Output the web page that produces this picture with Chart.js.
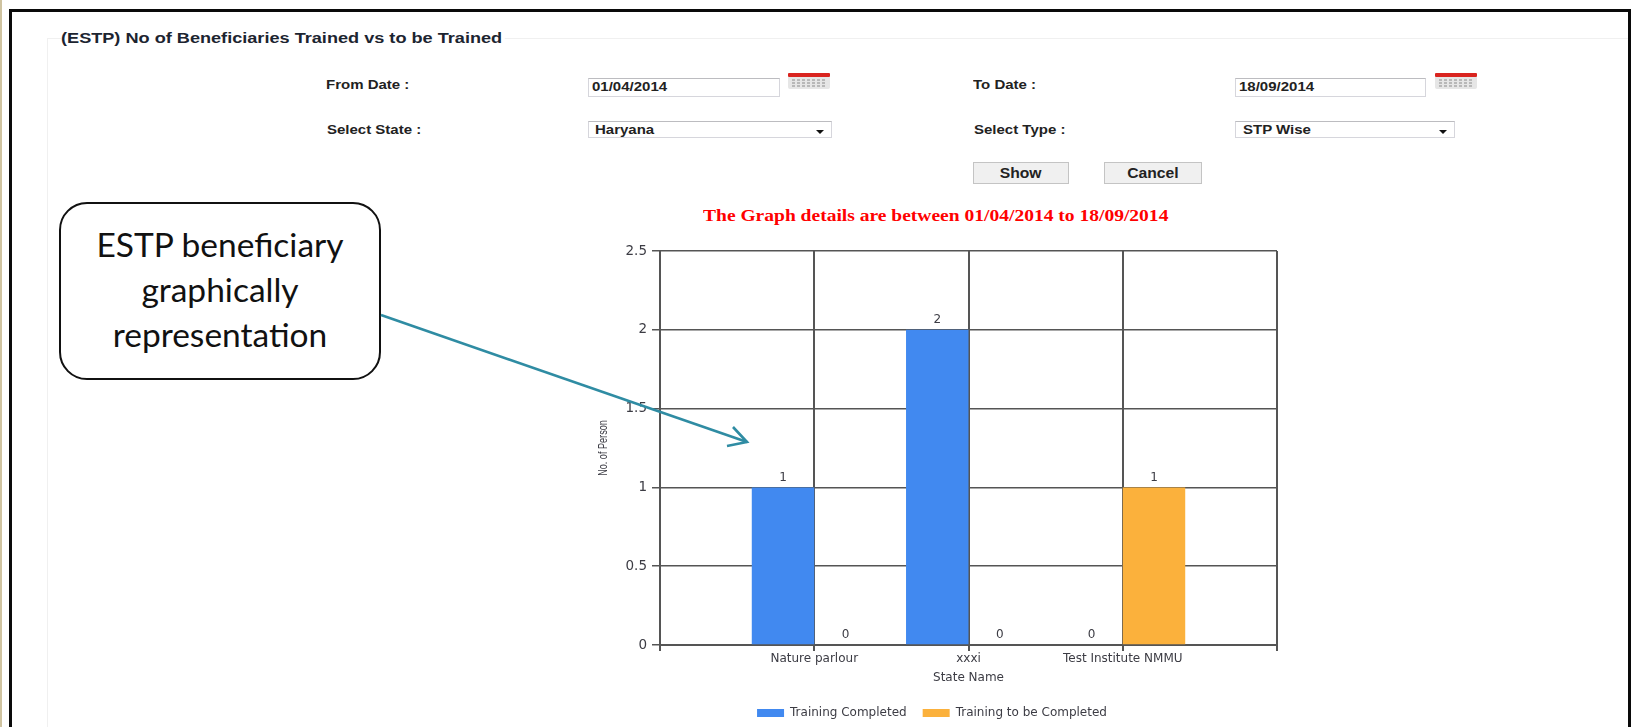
<!DOCTYPE html>
<html>
<head>
<meta charset="utf-8">
<title>(ESTP) No of Beneficiaries Trained vs to be Trained</title>
<script src="https://cdn.jsdelivr.net/npm/chart.js@4"></script>
<style>
    html, body { margin: 0; padding: 0; background: #fff; overflow: hidden; }
    #page { position: relative; width: 1631px; height: 727px; overflow: hidden; font-family: "Liberation Sans", Arial, sans-serif; color: #222; }
    #strip { position: absolute; left: 0; top: 0; width: 2px; height: 727px; background: #cfc3a0; }
    #frame { position: absolute; left: 9px; top: 9px; width: 1622px; height: 730px; border: 3px solid #0a0a0a; box-sizing: border-box; }
    #fieldLeft { position: absolute; left: 47px; top: 38px; width: 1px; height: 700px; background: #f0f0f0; }
    #fieldTop { position: absolute; left: 47px; top: 38px; width: 1581px; height: 1px; background: #f0f0f0; }
    .txt { position: absolute; font-weight: bold; font-size: 12.5px; line-height: 14px; white-space: nowrap; transform: scaleX(1.2); transform-origin: left center; }
    .box { position: absolute; background: #fff; border: 1px solid #d6d6dc; border-top-color: #bcbcc0; box-sizing: border-box; }
    .caret { position: absolute; width: 0; height: 0; border-left: 4.5px solid transparent; border-right: 4.5px solid transparent; border-top: 4.5px solid #111; }
    .btn { position: absolute; top: 162px; height: 22px; background: #f0f0f0; border: 1px solid #c4c4c4; box-sizing: border-box; text-align: center; font-weight: bold; font-size: 14px; line-height: 20px; }
    .btn span { display: inline-block; transform: scaleX(1.12); }
    #graphTitle { position: absolute; left: 703px; top: 207px; font: bold 16px/18px "Liberation Serif", serif; color: #ff0000; white-space: nowrap; transform: scaleX(1.22); transform-origin: left center; }
    #chartBox { position: absolute; left: 582px; top: 200px; width: 700px; height: 535px; }
    #yTitle { position: absolute; left: 603px; top: 448px; font-size: 13px; line-height: 14px; color: #3c3c44; white-space: nowrap; transform: translate(-50%, -50%) rotate(-90deg) scaleX(0.7); }
    #callout { position: absolute; left: 59px; top: 202px; width: 322px; height: 178px; border: 2px solid #111; border-radius: 28px; background: #fff; box-sizing: border-box; text-align: center; font-family: Lato, "Open Sans", sans-serif; font-size: 33.5px; line-height: 45px; padding-top: 18px; color: #111; }
    #arrow { position: absolute; left: 0; top: 0; }
</style>
</head>
<body>
<div id="page">
    <div id="strip"></div>
    <div id="frame"></div>
    <div id="fieldLeft"></div>
    <div id="fieldTop"></div>

    <div class="txt" style="left:61px;top:31px;font-size:14.5px;background:#fff;padding-right:2px;color:#1c2430;transform:scaleX(1.25)">(ESTP) No of Beneficiaries Trained vs to be Trained</div>

    <div class="txt" style="left:326px;top:78px">From Date :</div>
    <div class="box" style="left:588px;top:78px;width:192px;height:19px"></div>
    <div class="txt" style="left:592px;top:80px">01/04/2014</div>
    <svg style="position:absolute;left:788px;top:73px" width="44" height="18"><use href="#cal"/></svg>

    <div class="txt" style="left:973px;top:78px">To Date :</div>
    <div class="box" style="left:1235px;top:78px;width:191px;height:19px"></div>
    <div class="txt" style="left:1239px;top:80px">18/09/2014</div>
    <svg style="position:absolute;left:1435px;top:73px" width="44" height="18"><use href="#cal"/></svg>

    <div class="txt" style="left:327px;top:123px">Select State :</div>
    <div class="box" style="left:588px;top:121px;width:244px;height:17px"></div>
    <div class="txt" style="left:595px;top:123px">Haryana</div>
    <div class="caret" style="left:816px;top:130px"></div>

    <div class="txt" style="left:974px;top:123px">Select Type :</div>
    <div class="box" style="left:1235px;top:121px;width:220px;height:17px"></div>
    <div class="txt" style="left:1243px;top:123px">STP Wise</div>
    <div class="caret" style="left:1439px;top:130px"></div>

    <div class="btn" style="left:973px;width:96px"><span>Show</span></div>
    <div class="btn" style="left:1104px;width:98px"><span>Cancel</span></div>

    <div id="graphTitle">The Graph details are between 01/04/2014 to 18/09/2014</div>

    <div id="chartBox"><canvas id="myChart"></canvas></div>
    <div id="yTitle">No. of Person</div>

    <div id="callout">ESTP beneficiary<br>graphically<br>representation</div>

    <svg id="arrow" width="1631" height="727">
        <defs>
            <g id="cal">
                <rect x="0" y="3" width="42" height="13" rx="2" fill="#e6e6e6"/>
                <rect x="0" y="0" width="42" height="4" rx="1" fill="#d9241f"/>
                <path d="M4 7h34M4 10h34M4 13h34" stroke="#a9a9a9" stroke-width="1.5" stroke-dasharray="3 2" fill="none"/>
            </g>
        </defs>
        <g stroke="#2f8ca3" stroke-width="2.6" fill="none">
            <path d="M381 315L747 442"/>
            <path d="M733 427L747 442L727 446"/>
        </g>
    </svg>
</div>

<script>
const stateNames = ['', 'Nature parlour', 'xxxi', 'Test Institute NMMU', ''];
const trainingCompleted = [null, 1, 2, 0, null];
const trainingToBeCompleted = [null, 0, 0, 1, null];

const textColor = '#3c3c44';
const lineColor = '#555';
const wideFont = '"DejaVu Sans", sans-serif';

// writes the value over each bar
const barValues = {
    id: 'barValues',
    afterDatasetsDraw(chart) {
        const ctx = chart.ctx;
        ctx.save();
        ctx.font = '12px ' + wideFont;
        ctx.fillStyle = textColor;
        ctx.textAlign = 'center';
        ctx.textBaseline = 'middle';
        chart.data.datasets.forEach((ds, d) => {
            chart.getDatasetMeta(d).data.forEach((bar, i) => {
                if (ds.data[i] !== null) ctx.fillText(ds.data[i], bar.x, bar.y - 10);
            });
        });
        ctx.restore();
    }
};

new Chart(document.getElementById('myChart'), {
    type: 'bar',
    data: {
        labels: stateNames,
        datasets: [
            { label: 'Training Completed', data: trainingCompleted, backgroundColor: '#4189f0', barPercentage: 1, categoryPercentage: 0.81 },
            { label: 'Training to be Completed', data: trainingToBeCompleted, backgroundColor: '#fbb13c', barPercentage: 1, categoryPercentage: 0.81 }
        ]
    },
    plugins: [barValues],
    options: {
        responsive: true,
        maintainAspectRatio: false,
        animation: false,
        layout: { padding: { left: 5, right: 5, top: 51, bottom: 6 } },
        plugins: {
            legend: {
                position: 'bottom',
                labels: {
                    boxWidth: 27,
                    boxHeight: 8,
                    padding: 16,
                    color: textColor,
                    font: { family: wideFont, size: 12 }
                }
            },
            tooltip: { enabled: false }
        },
        scales: {
            x: {
                offset: false,
                grid: { offset: false, color: lineColor, lineWidth: 2, tickLength: 6, tickColor: lineColor },
                border: { color: lineColor, width: 2 },
                ticks: { autoSkip: false, maxRotation: 0, color: textColor, padding: 1, font: { family: wideFont, size: 12 } },
                title: { display: true, text: 'State Name', color: textColor, padding: { top: 6, bottom: 6 }, font: { family: wideFont, size: 12 } },
                afterFit(scale) { scale.height = 46; }
            },
            y: {
                min: 0,
                max: 2.5,
                grid: { color: lineColor, lineWidth: 1.5, tickLength: 8, tickColor: lineColor },
                border: { color: lineColor, width: 2 },
                ticks: { stepSize: 0.5, color: textColor, padding: 5, font: { family: wideFont, size: 13.5 }, callback: (v) => String(v) },
                afterFit(scale) { scale.width = 73; }
            }
        }
    }
});
</script>
</body>
</html>
